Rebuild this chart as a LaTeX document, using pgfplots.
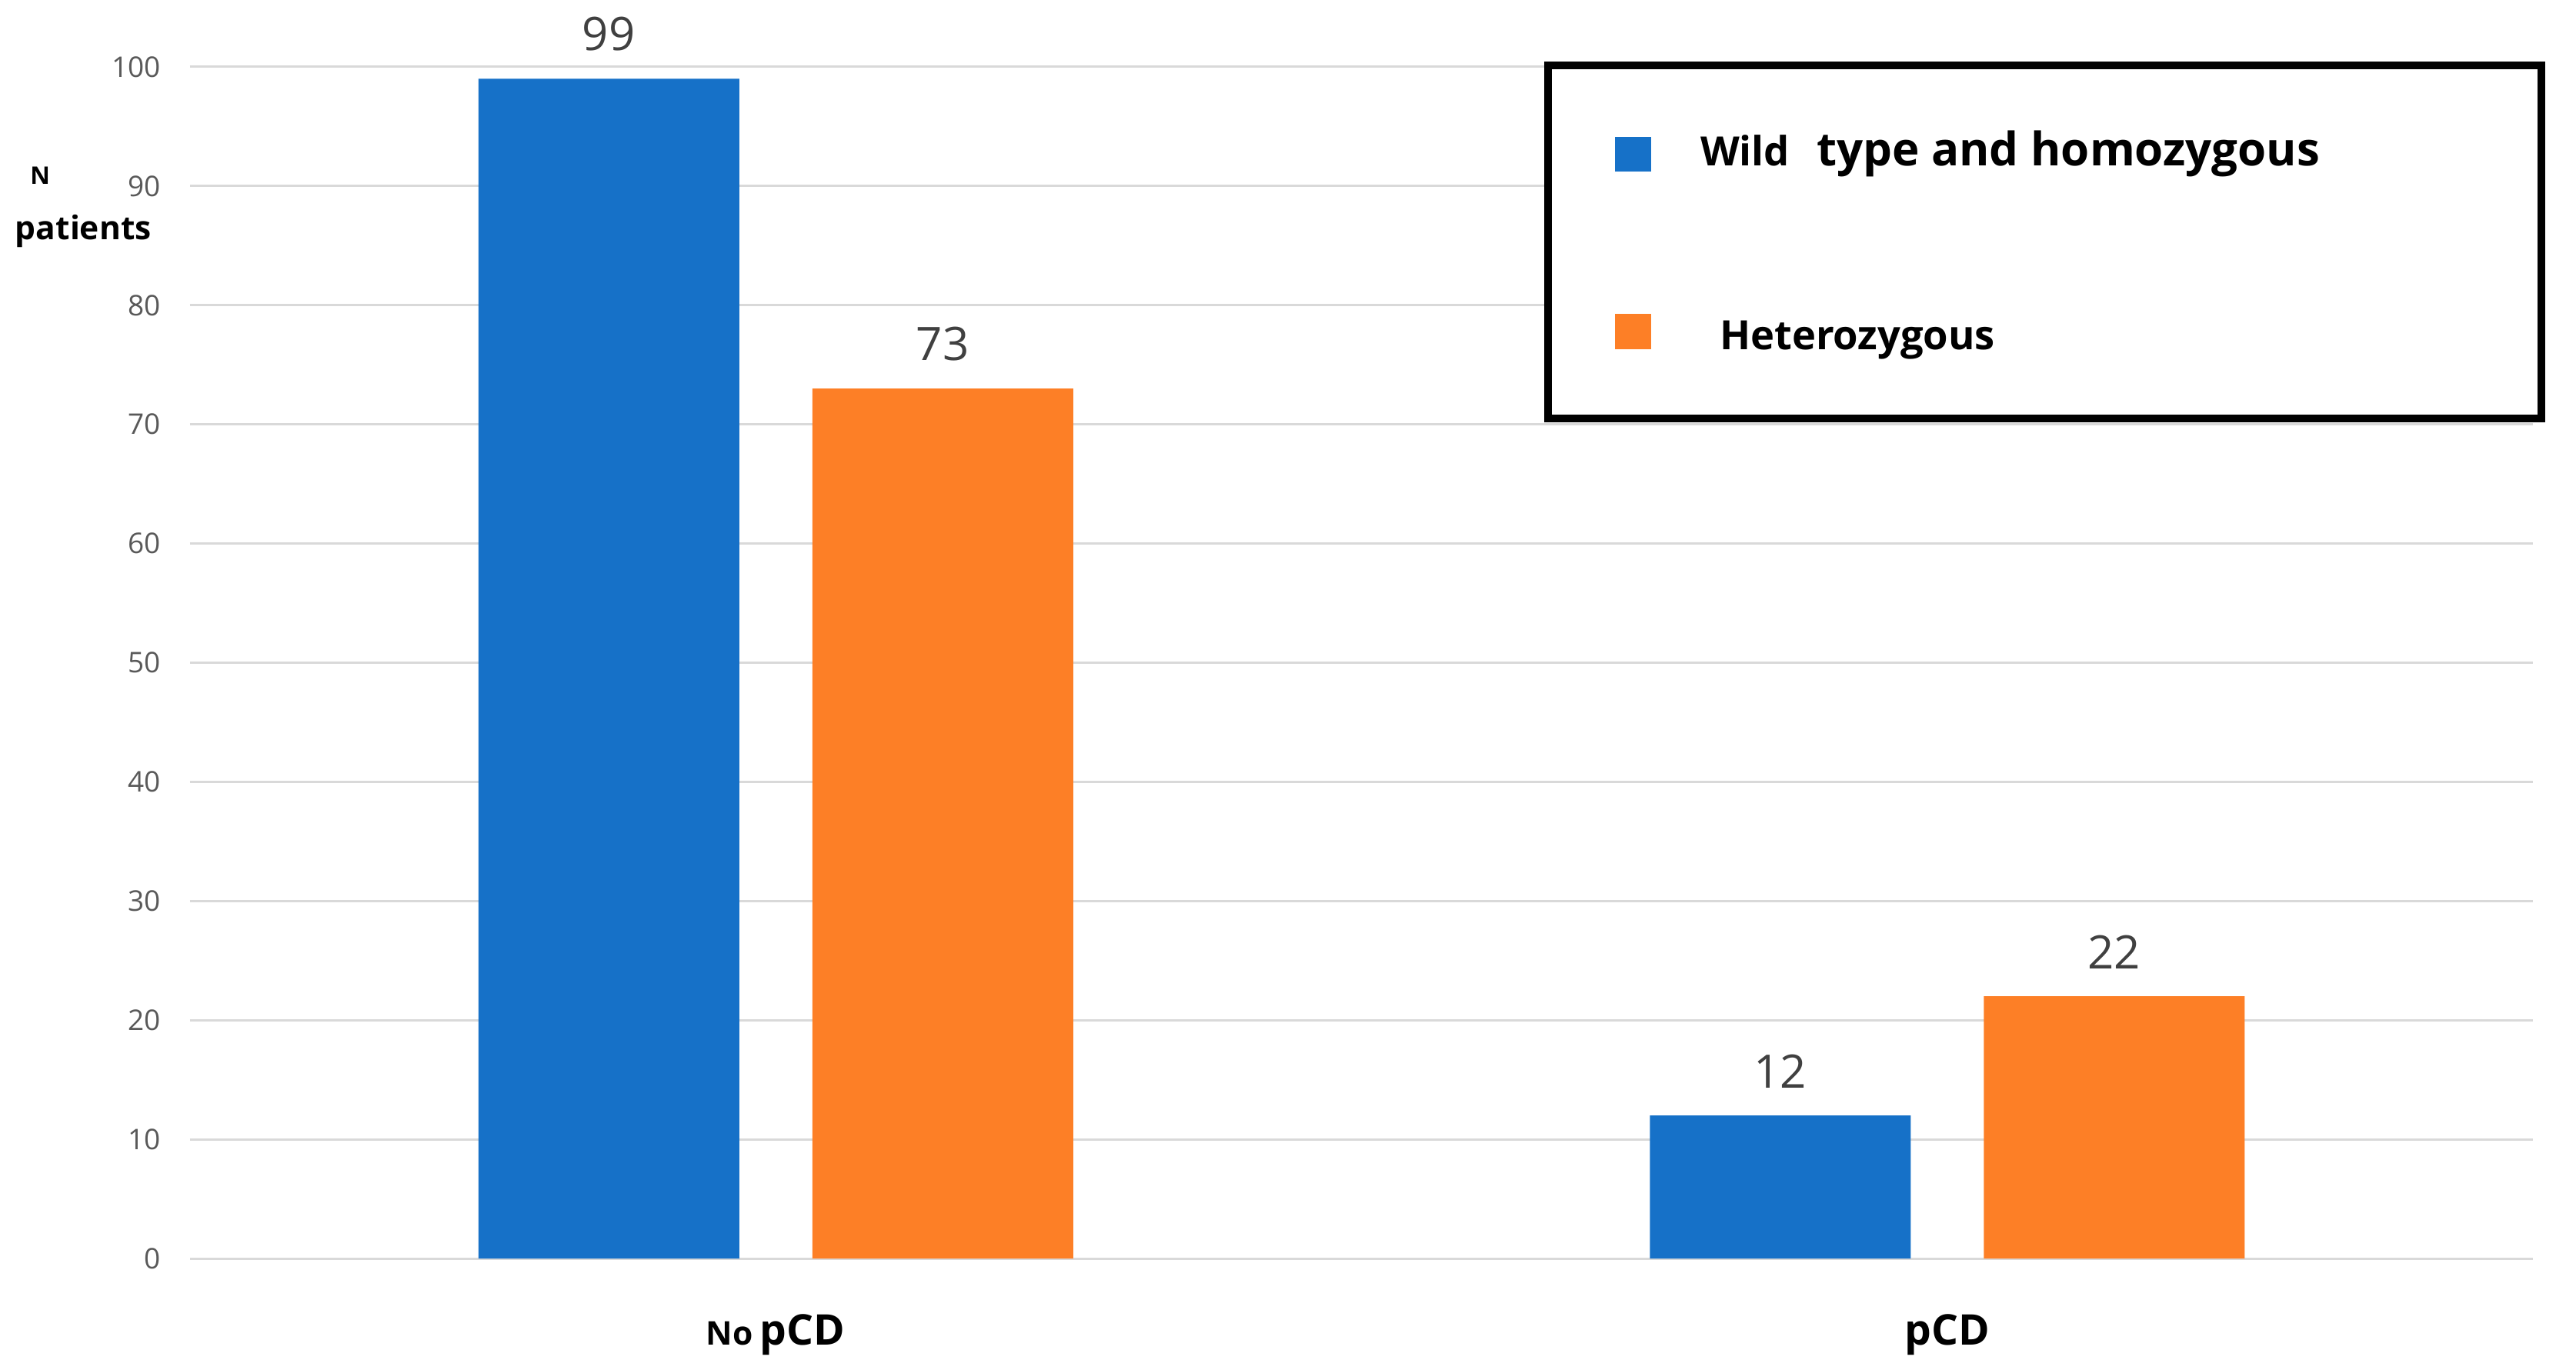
\documentclass[border=0pt]{standalone}
\usepackage{fontspec}
\setmainfont{Open Sans}
\usepackage{pgfplots}
\pgfplotsset{compat=1.18}
\definecolor{cblue}{RGB}{22,113,200}
\definecolor{corange}{RGB}{253,127,38}
\definecolor{tickgray}{RGB}{89,89,89}
\definecolor{labelgray}{RGB}{64,64,64}
\definecolor{gridgray}{RGB}{217,217,217}
\begin{document}
\begin{tikzpicture}
\begin{axis}[
  width=609pt, height=309.8pt, scale only axis,
  xmin=-0.5, xmax=1.5, ymin=0, ymax=100,
  ybar, bar width=67.8pt,
  xtick={0,1},
  xticklabels={{{\fontsize{8.5}{10}\selectfont No}\,pCD},{pCD}},
  ytick={0,10,...,100},
  ymajorgrids, grid style={gridgray, line width=0.6pt},
  separate axis lines,
  axis line style={draw=none}, major tick length=0pt, tick style={draw=none},
  /pgf/number format/assume math mode=true,
  yticklabel style={font=\fontsize{7.4}{9}\selectfont, text=tickgray, inner sep=0pt, xshift=-7.4pt},
  xticklabel style={anchor=base, inner sep=0pt, yshift=-22.4pt, font=\bfseries\fontsize{11}{13}\selectfont},
  nodes near coords,
  nodes near coords style={font=\fontsize{12}{14}\selectfont, text=labelgray, anchor=south, inner sep=0pt, yshift=7pt},
  legend style={at={(0.578,1.0045)}, anchor=north west, draw=black, line width=2pt,
    inner xsep=17.4pt, inner ysep=16.3pt, row sep=32.3pt, column sep=12.8pt,
    nodes={inner sep=0pt}, cells={anchor=base west}, font=\bfseries},
]
\addplot[fill=cblue, draw=none, bar shift=-43.4pt,
  legend image code/.code={\fill[cblue] (0pt,-1.6pt) rectangle (9.4pt,7.4pt);}]
  coordinates {(0,99) (1,12)};
\addlegendentry{\makebox[201.2pt][l]{\rule[-6pt]{0pt}{15.7pt}{\fontsize{10.5}{12}\selectfont Wild}\hspace{7pt}{\fontsize{12}{14}\selectfont type and homozygous}}}
\addplot[fill=corange, draw=none, bar shift=43.4pt,
  legend image code/.code={\fill[corange] (0pt,0.2pt) rectangle (9.4pt,9.4pt);}]
  coordinates {(0,73) (1,22)};
\addlegendentry{\makebox[201.2pt][l]{\rule[-6pt]{0pt}{20pt}\hspace{5pt}{\fontsize{10.5}{12}\selectfont Heterozygous}}}
\end{axis}
\node[anchor=base west, inner sep=0pt, font=\bfseries\fontsize{6.3}{7}\selectfont] at (-41.7pt,279.2pt) {N};
\node[anchor=base west, inner sep=0pt, font=\bfseries\fontsize{8.5}{10}\selectfont] at (-45.6pt,264.8pt) {patients};
\path (-49.4pt,-29pt) rectangle (620.2pt,327.2pt);
\end{tikzpicture}
\end{document}
